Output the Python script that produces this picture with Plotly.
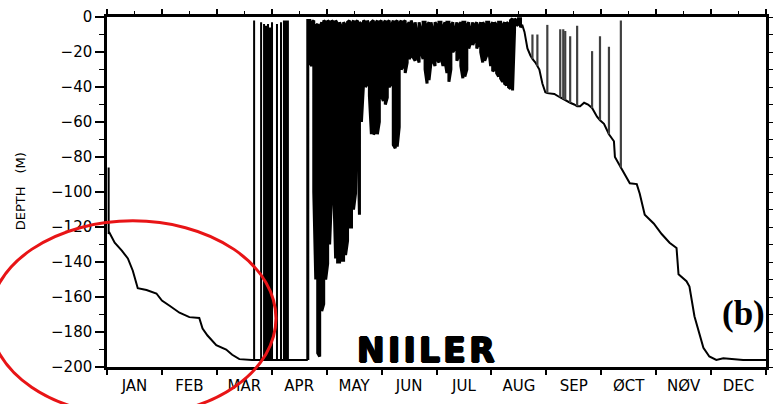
import plotly.graph_objects as go

# ---------------- data (x in month units: 0 = 1 Jan, 12 = 31 Dec; depth in m) ----------------
month_labels = ["JAN", "FEB", "MAR", "APR", "MAY", "JUN", "JUL", "AUG", "SEP", "ØCT", "NØV", "DEC"]
depth_ticks = [-200, -180, -160, -140, -120, -100, -80, -60, -40, -20, 0]

# winter deepening (Jan - Mar)
jan_x = [0.03, 0.03, 0.04, 0.14, 0.27, 0.38, 0.47, 0.56, 0.72, 0.90, 1.00, 1.14, 1.32, 1.50,
         1.68, 1.74, 1.83, 1.99, 2.17, 2.28, 2.41, 2.64]
jan_depth = [-86, -124, -123, -129, -133.5, -138, -145, -155, -156, -158, -162, -165, -169, -171.5,
             -172, -178, -182, -187.5, -190, -193, -195.5, -196]

# late March / April isolated spikes from the bottom
bottom_depth = -196
mar_spike_x = [2.679, 2.806, 2.860, 2.896, 2.932, 2.968, 3.005, 3.095, 3.168, 3.222, 3.258, 3.294]
mar_spike_top = [-2, -3, -4, -5, -4, -6, -3, -4, -3, -2, -2, -2]

# dense spring/summer shoaling (May - Aug): each sample has a shallow and a deep value
dense_x = [3.656, 3.692, 3.729, 3.765, 3.801, 3.837, 3.873, 3.910, 3.946, 3.982,
           4.018, 4.054, 4.091, 4.127, 4.163, 4.199, 4.235, 4.271, 4.308, 4.344,
           4.380, 4.416, 4.452, 4.489, 4.525, 4.561, 4.597, 4.633, 4.670, 4.706,
           4.742, 4.778, 4.814, 4.851, 4.887, 4.923, 4.959, 4.995, 5.032, 5.068,
           5.104, 5.140, 5.176, 5.213, 5.249, 5.285, 5.321, 5.357, 5.394, 5.430,
           5.466, 5.502, 5.538, 5.575, 5.611, 5.647, 5.683, 5.719, 5.756, 5.792,
           5.828, 5.864, 5.900, 5.937, 5.973, 6.009, 6.045, 6.081, 6.118, 6.154,
           6.190, 6.226, 6.262, 6.299, 6.335, 6.371, 6.407, 6.443, 6.480, 6.516,
           6.552, 6.588, 6.624, 6.661, 6.697, 6.733, 6.769, 6.805, 6.842, 6.878,
           6.914, 6.950, 6.986, 7.023, 7.059, 7.095, 7.131, 7.167, 7.204, 7.240,
           7.276, 7.312, 7.348, 7.385, 7.421, 7.457, 7.493, 7.529]
dense_hi = [-2, -2, -3, -2, -5, -4, -6, -3, -2, -3,
            -2, -3, -2, -3, -2, -4, -3, -6, -3, -5,
            -3, -2, -4, -2, -3, -2, -3, -4, -2, -3,
            -2, -5, -3, -2, -4, -2, -3, -2, -4, -2,
            -3, -2, -5, -2, -3, -2, -4, -2, -3, -2,
            -5, -3, -2, -6, -3, -10, -3, -8, -3, -3,
            -5, -3, -3, -8, -3, -5, -3, -3, -6, -3,
            -3, -3, -5, -3, -8, -3, -5, -3, -3, -3,
            -5, -3, -8, -3, -5, -3, -6, -3, -3, -5,
            -3, -3, -5, -3, -3, -5, -3, -3, -5, -3,
            -3, -4, -2, -1, -1, -2, -1, -1]
dense_lo = [-196, -26, -28, -100, -150, -192, -194, -168, -164, -150,
            -141, -130, -100, -96, -138, -140, -140, -139, -139, -136,
            -128, -120, -120, -110, -101, -60, -113, -60, -39, -40,
            -38, -45, -67, -67, -66, -67, -60, -45, -48, -50,
            -46, -40, -38, -73, -75, -74, -63, -30, -28, -32,
            -26, -24, -22, -23, -25, -22, -26, -20, -24, -30,
            -38, -36, -26, -25, -28, -24, -26, -22, -28, -25,
            -32, -37, -30, -20, -18, -25, -22, -28, -35, -34,
            -30, -18, -14, -16, -13, -18, -15, -20, -26, -25,
            -22, -18, -28, -31, -30, -32, -34, -35, -37, -38,
            -39, -40, -41, -42, -8, -5, -4, -6]

# autumn deepening (Aug - Dec)
fall_x = [7.529, 7.566, 7.602, 7.656, 7.710, 7.747, 7.801, 7.837, 7.873, 7.928, 7.982,
          8.018, 8.145, 8.253, 8.308, 8.344, 8.434, 8.507, 8.561, 8.615, 8.688,
          8.760, 8.833, 8.923, 8.977, 9.050, 9.140, 9.231, 9.249, 9.321, 9.357,
          9.412, 9.520, 9.647, 9.701, 9.792, 9.955, 10.100, 10.244, 10.371, 10.407,
          10.552, 10.606, 10.697, 10.787, 10.860, 10.968, 11.095, 11.222, 11.584, 12.0]
fall_depth = [-6, -5, -8.5, -18, -22, -24, -26, -28, -30, -38, -43,
              -43.5, -44, -46, -47, -47.5, -49, -50, -51, -51, -49,
              -50, -52, -57, -59, -61, -67, -71, -80, -84, -86,
              -89, -95, -95.5, -101, -113, -118, -124, -129, -132, -147,
              -151, -154, -171, -181, -189, -194, -196, -195, -196, -196]

# thin autumn spikes rising from the deepening curve
fall_spike_x = [7.747, 7.837, 8.018, 8.253, 8.308, 8.344, 8.434, 8.561, 8.833, 8.977, 9.140, 9.357]
fall_spike_base = [-24, -28, -43.5, -46, -47, -47.5, -49, -51, -52, -59, -67, -86]
fall_spike_top = [-10, -10, -4.5, -7, -7, -8, -11, -5, -19.5, -11, -17, -2]

# ---------------- build the traces ----------------
xs, ys = list(jan_x), list(jan_depth)
for x, t in zip(mar_spike_x, mar_spike_top):
    xs += [x, x, x]
    ys += [bottom_depth, t, bottom_depth]
xs.append(dense_x[0])
ys.append(bottom_depth)

dx, dy = [], []
for i, (x, hi, lo) in enumerate(zip(dense_x, dense_hi, dense_lo)):
    dx += [x, x]
    dy += [lo, hi] if i % 2 == 0 else [hi, lo]

sx, sy = [], []
for x, b, t in zip(fall_spike_x, fall_spike_base, fall_spike_top):
    sx += [x, x, None]
    sy += [b, t, None]

fig = go.Figure()
fig.add_trace(go.Scatter(x=xs, y=ys, mode="lines", line=dict(color="black", width=2),
                         hoverinfo="skip", showlegend=False))
fig.add_trace(go.Scatter(x=dx, y=dy, mode="lines", line=dict(color="black", width=3),
                         hoverinfo="skip", showlegend=False))
fig.add_trace(go.Scatter(x=fall_x, y=fall_depth, mode="lines", line=dict(color="black", width=2),
                         hoverinfo="skip", showlegend=False))
fig.add_trace(go.Scatter(x=sx, y=sy, mode="lines", line=dict(color="#404040", width=2.2),
                         hoverinfo="skip", showlegend=False))
# helper trace so that the mirrored top/right axes get drawn
fig.add_trace(go.Scatter(x=[0, 12], y=[-200, 0], xaxis="x2", yaxis="y2", mode="lines",
                         line=dict(width=0), opacity=0, hoverinfo="skip", showlegend=False))

tick_font = dict(family="DejaVu Sans", size=15, color="black")
month_centres = [i + 0.5 for i in range(12)]
month_edges = list(range(13))

fig.update_layout(
    width=778, height=404,
    margin=dict(l=107, r=8, t=15, b=37),
    paper_bgcolor="white", plot_bgcolor="white",
    xaxis=dict(range=[0, 12], tickmode="array", tickvals=month_centres, ticktext=month_labels,
               ticks="outside", ticklen=3, tickcolor="rgba(0,0,0,0)", tickfont=tick_font,
               showline=True, linecolor="black", linewidth=2.5, showgrid=False, zeroline=False,
               minor=dict(tickmode="array", tickvals=month_edges, ticks="outside", ticklen=5,
                          tickwidth=1.5, tickcolor="black", showgrid=False)),
    xaxis2=dict(range=[0, 12], overlaying="x", side="top", anchor="y2", tickmode="array",
                tickvals=month_edges, ticks="outside", ticklen=5, tickwidth=1.5, tickcolor="black",
                showticklabels=False, showline=True, linecolor="black", linewidth=2.5,
                showgrid=False, zeroline=False,
                minor=dict(tickmode="array", tickvals=month_centres, ticks="outside", ticklen=3,
                           tickwidth=1.2, tickcolor="black", showgrid=False)),
    yaxis=dict(range=[-200, 0], tickmode="array", tickvals=depth_ticks,
               ticktext=[("\u2212" + str(-v)) if v < 0 else str(v) for v in depth_ticks],
               ticks="outside", ticklen=9, tickwidth=1.5, tickcolor="black", tickfont=tick_font,
               showline=True, linecolor="black", linewidth=2.5, showgrid=False, zeroline=False,
               minor=dict(tickmode="array", tickvals=[v - 10 for v in depth_ticks[1:]],
                          ticks="outside", ticklen=5, tickwidth=1.2, tickcolor="black",
                          showgrid=False)),
    yaxis2=dict(range=[-200, 0], overlaying="y", side="right", anchor="x2", tickmode="array",
                tickvals=list(range(-200, 1, 10)), ticks="outside", ticklen=4, tickwidth=1.2,
                tickcolor="black", showticklabels=False, showline=True, linecolor="black",
                linewidth=2.5, showgrid=False, zeroline=False),
)

fig.add_annotation(text="DEPTH\u2002\u2002(M)", xref="paper", yref="paper", x=-0.13, y=0.503,
                   xanchor="center", yanchor="middle", textangle=-90, showarrow=False,
                   font=dict(family="DejaVu Sans", size=13, color="black"))
fig.add_annotation(text="<b>N\u200aI\u200aI\u200aL\u200aE\u200aR</b>", xref="paper", yref="paper",
                   x=0.4842, y=0.048, xanchor="center", yanchor="middle", showarrow=False,
                   font=dict(family="DejaVu Sans", size=33, color="black",
                             shadow="1px 0px 0px black, -1px 0px 0px black, 0px 1px 0px black, 0px -1px 0px black"))
fig.add_annotation(text="<b>(b)</b>", xref="paper", yref="paper", x=0.966, y=0.152,
                   xanchor="center", yanchor="middle", showarrow=False,
                   font=dict(family="Liberation Serif", size=35, color="black"))

fig.add_shape(type="circle", xref="paper", yref="paper", x0=-0.178, x1=0.2564,
              y0=-0.1392, y1=0.4176, line=dict(color="rgb(232,20,22)", width=3))

fig.write_html("out.html")
